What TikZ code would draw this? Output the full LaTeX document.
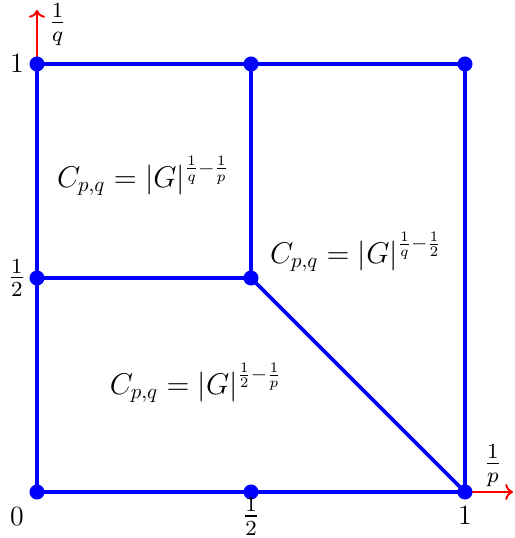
\documentclass[tikz,border=0pt]{standalone}
\usepackage{amsmath,amssymb}
\usetikzlibrary{arrows.meta,positioning}

\tikzset{
  region/.style={blue,line width=1.8pt},
  axis/.style={->,red,line width=0.9pt},
  vertex/.style={circle,fill=blue,inner sep=0pt,minimum size=7pt},
  tick/.style={inner sep=1pt,font=\large,scale=1.08},
  fractick/.style={inner sep=1pt,font=\large,scale=1.25},
  law/.style={font=\Large,scale=0.97}
}

\begin{document}
\begin{tikzpicture}[x=7cm,y=7cm,>=To]
  \useasboundingbox (-0.0864,-0.1075) rectangle (1.1146,1.1495);
  % axes
  \coordinate (o) at (0,0);
  \coordinate (xend) at (1.112,0);
  \coordinate (yend) at (0,1.126);
  \draw[axis] (o) -- (xend);
  \draw[axis] (o) -- (yend);
  \node[fractick] (plab) at (1.065,0.061) {$\frac{1}{p}$};
  \node[fractick] (qlab) at (0.048,1.092) {$\frac{1}{q}$};
  % grid points
  \node[vertex] (a00) at (0,0) {};
  \node[vertex] (a10) at (0.5,0) {};
  \node[vertex] (a20) at (1,0) {};
  \node[vertex] (a01) at (0,0.5) {};
  \node[vertex] (a11) at (0.5,0.5) {};
  \node[vertex] (a02) at (0,1) {};
  \node[vertex] (a12) at (0.5,1) {};
  \node[vertex] (a22) at (1,1) {};
  % regions
  \draw[region] (a00.center) -- (a10.center) -- (a20.center) -- (a22.center)
                -- (a12.center) -- (a02.center) -- (a01.center) -- cycle;
  \draw[region] (a01.center) -- (a11.center) -- (a12.center);
  \draw[region] (a11.center) -- (a20.center);
  % ticks
  \node[tick] (t01) at (-0.047,1) {$1$};
  \node[fractick] (t0h) at (-0.047,0.5) {$\frac{1}{2}$};
  \node[tick] (t00) at (-0.047,-0.058) {$0$};
  \node[fractick] (th0) at (0.5,-0.057) {$\frac{1}{2}$};
  \node[tick] (t10) at (1,-0.055) {$1$};
  % constants
  \node[law] (c1) at (0.248,0.738) {$C_{p,q}=|G|^{\frac{1}{q}-\frac{1}{p}}$};
  \node[law] (c2) at (0.745,0.561) {$C_{p,q}=|G|^{\frac{1}{q}-\frac{1}{2}}$};
  \node[law] (c3) at (0.371,0.255) {$C_{p,q}=|G|^{\frac{1}{2}-\frac{1}{p}}$};
\end{tikzpicture}
\end{document}
